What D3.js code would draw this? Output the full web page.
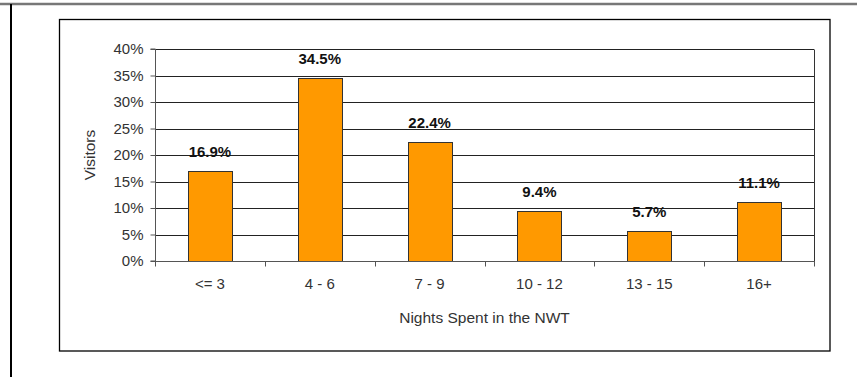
<!DOCTYPE html>
<html><head><meta charset="utf-8">
<script src="https://cdn.jsdelivr.net/npm/d3@7"></script>
<style>
html,body{margin:0;padding:0;background:#fff;}
svg{display:block;font-family:"Liberation Sans",Arial,sans-serif;}
</style></head>
<body>
<svg id="chart" width="857" height="377"></svg>
<script>
const categories = ["<= 3", "4 - 6", "7 - 9", "10 - 12", "13 - 15", "16+"];
const values = [16.9, 34.5, 22.4, 9.4, 5.7, 11.1];
const yTicks = [0, 5, 10, 15, 20, 25, 30, 35, 40];
const xTitle = "Nights Spent in the NWT";
const yTitle = "Visitors";

const svg = d3.select("#chart");
const W = 857, H = 377;
const plot = {left: 155, right: 814, top: 49, bottom: 261};
const FS = 15;

// outer page frame
svg.append("line").attr("x1", 0).attr("x2", W).attr("y1", 4).attr("y2", 4)
  .attr("stroke", "#777").attr("stroke-width", 2.5);
svg.append("line").attr("x1", 11).attr("x2", 11).attr("y1", 4).attr("y2", H)
  .attr("stroke", "#000").attr("stroke-width", 2);

// chart box
svg.append("rect").attr("x", 59.5).attr("y", 19.5).attr("width", 770.5).attr("height", 331.5)
  .attr("fill", "#fff").attr("stroke", "#000").attr("stroke-width", 1.3);

const x = d3.scaleBand().domain(categories).range([plot.left, plot.right]).paddingInner(0.6).paddingOuter(0.3);
const xb = d3.scaleBand().domain(categories).range([plot.left, plot.right]);
const y = d3.scaleLinear().domain([0, 40]).range([plot.bottom, plot.top]);

// gridlines
svg.append("g").selectAll("line").data(yTicks.filter(d => d > 0)).join("line")
  .attr("x1", plot.left).attr("x2", plot.right)
  .attr("y1", d => Math.round(y(d)) + 0.5).attr("y2", d => Math.round(y(d)) + 0.5)
  .attr("stroke", "#222").attr("stroke-width", 1);
// right border of plot
svg.append("line").attr("x1", plot.right + 0.5).attr("x2", plot.right + 0.5)
  .attr("y1", Math.round(y(40)) + 0.5).attr("y2", plot.bottom + 4)
  .attr("stroke", "#333");

// bars
svg.append("g").selectAll("rect").data(values).join("rect")
  .attr("x", (d, i) => Math.round(x(categories[i])) + 0.5)
  .attr("width", Math.round(x.bandwidth()))
  .attr("y", d => Math.round(y(d)) + 0.5)
  .attr("height", d => Math.round(y(0)) - Math.round(y(d)))
  .attr("fill", "#FF9900").attr("stroke", "#333").attr("stroke-width", 1);

// value labels
svg.append("g").selectAll("text").data(values).join("text")
  .attr("x", (d, i) => x(categories[i]) + x.bandwidth() / 2)
  .attr("y", d => y(d) - 14)
  .attr("text-anchor", "middle").attr("font-size", FS).attr("font-weight", "bold")
  .attr("fill", "#111")
  .text(d => d.toFixed(1) + "%");

// y axis
const yAxis = d3.axisLeft(y).tickValues(yTicks).tickFormat(d => d + "%").tickSize(5).tickPadding(7);
const gy = svg.append("g").attr("transform", `translate(${plot.left + 0.5},0)`).call(yAxis);
gy.select(".domain").attr("stroke", "#555").attr("d", `M-5,${plot.top}H0V${plot.bottom}H-5`);
gy.selectAll(".tick line").attr("stroke", "#555");
gy.selectAll(".tick text").attr("font-size", FS).attr("fill", "#333")
  .attr("font-family", "'Liberation Sans',Arial,sans-serif");

// x axis
const gx = svg.append("g").attr("transform", `translate(0,${plot.bottom + 0.5})`);
gx.append("line").attr("x1", plot.left).attr("x2", plot.right + 1).attr("y1", 0).attr("y2", 0).attr("stroke", "#555");
const bounds = categories.map(c => xb(c)).concat([plot.right]);
gx.selectAll("line.tk").data(bounds).join("line").attr("class", "tk")
  .attr("x1", d => Math.round(d) + 0.5).attr("x2", d => Math.round(d) + 0.5)
  .attr("y1", 0).attr("y2", 5).attr("stroke", "#555");
gx.selectAll("text").data(categories).join("text")
  .attr("x", d => xb(d) + xb.bandwidth() / 2).attr("y", 27)
  .attr("text-anchor", "middle").attr("font-size", FS).attr("fill", "#333")
  .text(d => d);

// axis titles
svg.append("text").attr("x", (plot.left + plot.right) / 2).attr("y", 323)
  .attr("text-anchor", "middle").attr("font-size", 15.5).attr("fill", "#333").text(xTitle);
svg.append("text").attr("transform", "translate(95,155) rotate(-90)")
  .attr("text-anchor", "middle").attr("font-size", 15.5).attr("fill", "#333").text(yTitle);
</script>
</body></html>
